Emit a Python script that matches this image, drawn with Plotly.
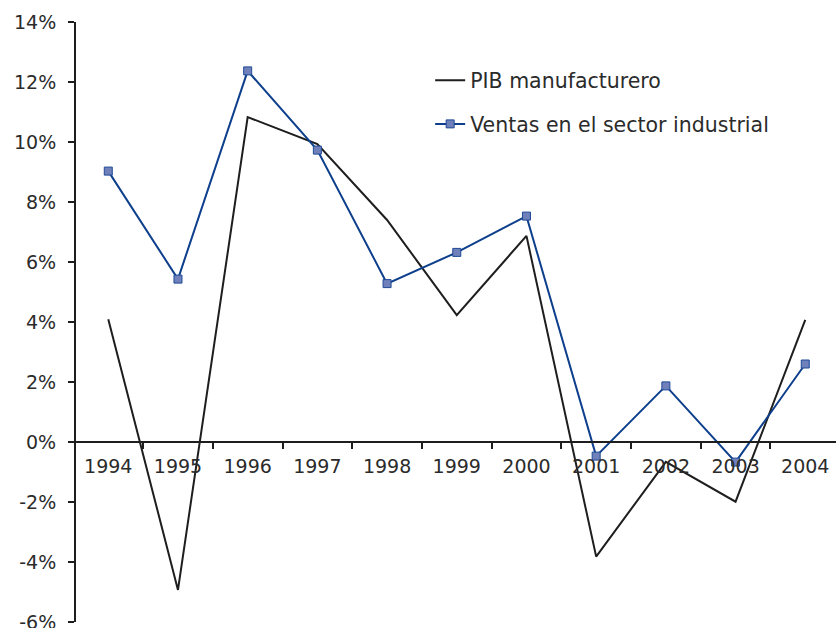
import plotly.graph_objects as go

years = ["1994", "1995", "1996", "1997", "1998", "1999", "2000", "2001", "2002", "2003", "2004"]
pib = [4.09, -4.93, 10.83, 9.93, 7.4, 4.23, 6.87, -3.82, -0.66, -1.99, 4.07]
ventas = [9.03, 5.43, 12.37, 9.73, 5.28, 6.32, 7.53, -0.47, 1.87, -0.67, 2.6]
y_ticks = [-6, -4, -2, 0, 2, 4, 6, 8, 10, 12, 14]
y_labels = [f"{v}%" for v in y_ticks]

font_family = "DejaVu Sans, sans-serif"
text_color = "#2b2b2b"

fig = go.Figure()
fig.add_trace(go.Scatter(
    x=years, y=pib, mode="lines", name="PIB manufacturero",
    line=dict(color="#1e1e1e", width=2), legendgroup="a",
))
fig.add_trace(go.Scatter(
    x=years, y=ventas, mode="lines+markers", name="Ventas en el sector industrial",
    line=dict(color="#0d3f8c", width=2), legendgroup="b",
    marker=dict(symbol="square", size=8, color="#6f80bb", line=dict(color="#1f4a96", width=1)),
))

fig.update_layout(
    width=836, height=640,
    margin=dict(l=76, r=0, t=22, b=18),
    paper_bgcolor="white", plot_bgcolor="white",
    font=dict(family=font_family, size=19, color=text_color),
    showlegend=True,
    legend=dict(x=0.466, y=0.936, xanchor="left", yanchor="top",
                bgcolor="rgba(0,0,0,0)", font=dict(size=20.5, color=text_color),
                tracegroupgap=14, itemwidth=30),
    xaxis=dict(
        type="category", range=[-0.463, 10.441],
        anchor="free", position=0.3, automargin=False,
        showline=True, linecolor="#1e1e1e", linewidth=2,
        ticks="outside", ticklen=6, tickcolor="#1e1e1e", tickwidth=1.5,
        tickson="boundaries", showgrid=False, zeroline=False,
        ticklabelstandoff=7,
        tickfont=dict(size=19, color=text_color),
    ),
    yaxis=dict(
        range=[-6, 14], tickvals=y_ticks, ticktext=y_labels, automargin=False,
        showline=True, linecolor="#1e1e1e", linewidth=2,
        ticks="outside", ticklen=6, tickcolor="#1e1e1e", tickwidth=1.5,
        showgrid=False, zeroline=False, ticklabelstandoff=8,
        tickfont=dict(size=19, color=text_color),
    ),
)

fig.write_html(
    "out.html",
    config={"displayModeBar": False},
    post_script="document.body.style.margin='0';document.body.style.overflow='hidden';",
)
